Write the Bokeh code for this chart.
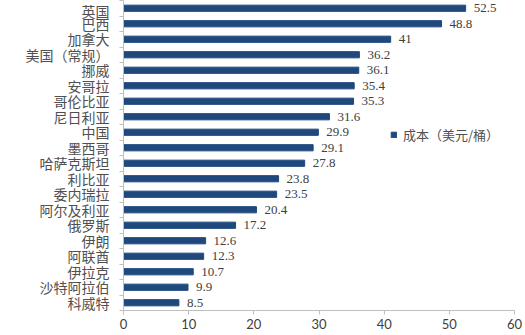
from bokeh.plotting import figure
from bokeh.models import ColumnDataSource, FixedTicker, LabelSet, Legend, LegendItem, Range1d
from bokeh.embed import file_html
from bokeh.resources import INLINE

countries = ["英国", "巴西", "加拿大", "美国（常规）", "挪威", "安哥拉", "哥伦比亚", "尼日利亚", "中国",
             "墨西哥", "哈萨克斯坦", "利比亚", "委内瑞拉", "阿尔及利亚", "俄罗斯", "伊朗", "阿联酋",
             "伊拉克", "沙特阿拉伯", "科威特"]
costs = [52.5, 48.8, 41, 36.2, 36.1, 35.4, 35.3, 31.6, 29.9, 29.1, 27.8, 23.8, 23.5, 20.4, 17.2,
         12.6, 12.3, 10.7, 9.9, 8.5]
x_ticks = [0, 10, 20, 30, 40, 50, 60]
series_name = "成本（美元/桶）"

n = len(countries)
ypos = [n - 1 - i for i in range(n)]
labels = [("%g" % c) for c in costs]
src = ColumnDataSource(dict(y=ypos, cost=costs, name=countries, label=labels))

p = figure(width=525, height=335, output_backend="svg", toolbar_location=None,
           x_range=Range1d(0, 60), y_range=Range1d(-0.5, n - 0.5),
           min_border_left=123, min_border_right=11, min_border_top=0, min_border_bottom=25)
p.outline_line_color = None
p.xgrid.grid_line_color = None
p.ygrid.grid_line_color = None
p.background_fill_color = "white"
p.border_fill_color = "white"

r = p.hbar(y="y", right="cost", height=0.4, left=0, source=src,
           fill_color="#1F497D", line_color="#1F497D")

lbl = LabelSet(x="cost", y="y", text="label", source=src, x_offset=8, y_offset=0,
               text_font="Lato", text_font_size="13px", text_color="#404040",
               text_baseline="middle")
p.add_layout(lbl)

ya = p.yaxis[0]
ya.ticker = FixedTicker(ticks=ypos, minor_ticks=[i + 0.5 for i in range(-1, n)])
ya.major_label_overrides = {y: c for y, c in zip(ypos, countries)}
ya.major_tick_line_color = None
ya.minor_tick_in = 0
ya.minor_tick_out = 4
ya.minor_tick_line_color = "#BFBFBF"
ya.axis_line_color = "#BFBFBF"
ya.major_label_text_font = "Noto Sans CJK SC"
ya.major_label_text_font_size = "14px"
ya.major_label_text_color = "#505050"
ya.major_label_standoff = 8

xa = p.xaxis[0]
xa.ticker = FixedTicker(ticks=x_ticks, minor_ticks=[])
xa.axis_line_color = "#BFBFBF"
xa.major_tick_line_color = "#BFBFBF"
xa.major_tick_in = 0
xa.major_tick_out = 4
xa.minor_tick_line_color = None
xa.major_label_text_font = "Lato"
xa.major_label_text_font_size = "13px"
xa.major_label_text_color = "#404040"
xa.major_label_standoff = 4

legend = Legend(items=[LegendItem(label=series_name, renderers=[r])], location=(267, 166),
                glyph_width=7, glyph_height=7, label_text_font="Noto Sans CJK SC",
                label_text_font_size="13px", label_text_color="#505050",
                border_line_color=None, background_fill_alpha=0, padding=0, margin=0,
                label_standoff=6)
p.add_layout(legend, "center")

open("out.html", "w").write(file_html(p, INLINE))
